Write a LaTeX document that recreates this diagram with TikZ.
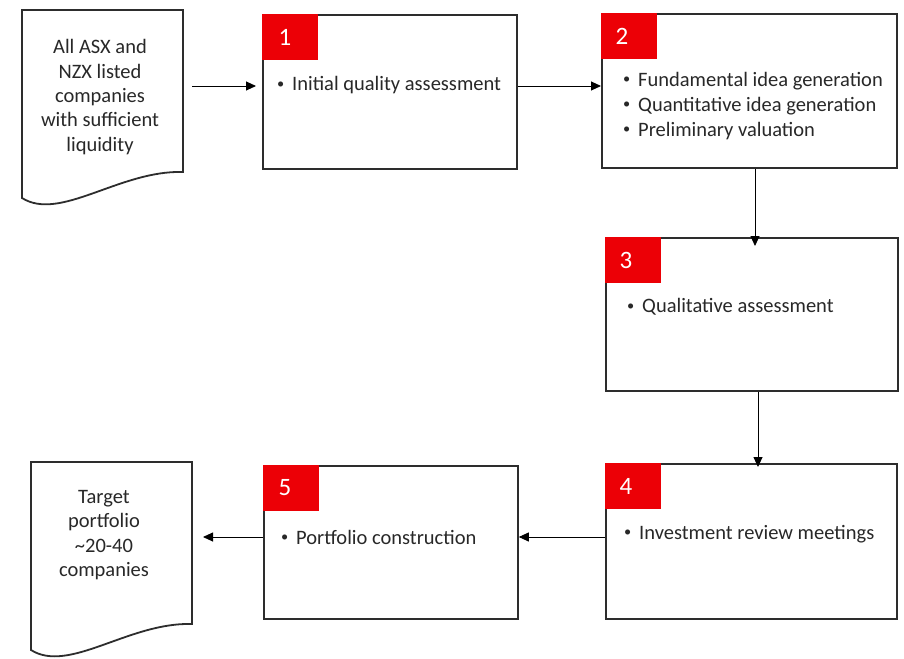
\documentclass[tikz,border=0pt]{standalone}
\usepackage{fontspec}
\setmainfont{Carlito}
\usetikzlibrary{arrows.meta}
\definecolor{stepred}{RGB}{236,0,6}
\definecolor{txt}{RGB}{40,40,40}
\definecolor{edge}{RGB}{45,45,45}
\tikzset{
  stepbox/.style={draw=edge, line width=1.8pt, fill=white, anchor=north west, inner sep=0pt},
  numbox/.style={fill=stepred, anchor=north west, minimum width=56pt, minimum height=46pt, inner sep=0pt},
  numtext/.style={anchor=center, inner sep=0pt, text=white, font=\fontsize{25}{25}\selectfont},
  item/.style={anchor=west, inner sep=0pt, text=txt, font=\fontsize{20.5}{25}\selectfont, align=left},
  doctext/.style={text=txt, font=\fontsize{20.5}{24.3}\selectfont, align=center, inner sep=0pt},
  docline/.style={draw=edge, line width=1.8pt, fill=white, line join=miter},
  arr/.style={-{Triangle[length=10pt,width=9pt]}, line width=0.9pt, draw=black},
}
\newcommand{\bul}{\makebox[15pt][l]{\raisebox{0.12em}{\scalebox{0.7}{\textbullet}}}}
\begin{document}
\begin{tikzpicture}[x=1pt,y=-1pt]
\useasboundingbox[fill=white] (0,0) rectangle (904,658);
% document 1
\draw[docline] (22,10) -- (183,10) -- (183,172) .. controls (120,170) and (60,222) .. (22,198) -- cycle;
\node[doctext] (d1) at (100,97) {All ASX and\\NZX listed\\companies\\with sufficient\\liquidity};
% document 2
\draw[docline] (31,462) -- (192,462) -- (192,624) .. controls (129,622) and (69,674) .. (31,650) -- cycle;
\node[doctext] (d2) at (104,535) {Target\\portfolio\\\textasciitilde20-40\\companies};
% boxes
\node[stepbox, minimum width=254pt, minimum height=154pt] (b1) at (262,14) {};
\node[numbox] (n1) at (262,14) {};
\node[numtext] (m1) at (285,37) {1};
\node[item] (t1) at (277,85) {\bul Initial quality assessment};

\node[stepbox, minimum width=295pt, minimum height=154pt] (b2) at (601,13) {};
\node[numbox] (n2) at (601,13) {};
\node[numtext] (m2) at (622,36) {2};
\node[item, anchor=north west] (t2) at (623,72) {\bul Fundamental idea generation\\\bul Quantitative idea generation\\\bul Preliminary valuation};

\node[stepbox, minimum width=292pt, minimum height=153pt] (b3) at (605,237) {};
\node[numbox] (n3) at (605,237) {};
\node[numtext] (m3) at (626,260) {3};
\node[item] (t3) at (627,307) {\bul Qualitative assessment};

\node[stepbox, minimum width=291pt, minimum height=155pt] (b4) at (605,463) {};
\node[numbox] (n4) at (605,463) {};
\node[numtext] (m4) at (626,486) {4};
\node[item] (t4) at (624,534) {\bul Investment review meetings};

\node[stepbox, minimum width=254pt, minimum height=153pt] (b5) at (263,465) {};
\node[numbox] (n5) at (263,465) {};
\node[numtext] (m5) at (285,488) {5};
\node[item] (t5) at (281,537) {\bul Portfolio construction};

% connectors
\coordinate (s1) at (192,86);
\draw[arr] (s1) -- ([xshift=-6pt]b1.west |- s1);
\draw[arr] (b1.east |- s1) -- (b2.west |- s1);
\draw[arr] (b2.south -| 755,0) -- ([yshift=-9pt]b3.north -| 755,0);
\draw[arr] (b3.south -| 758,0) -- ([yshift=-4pt]b4.north -| 758,0);
\coordinate (y5) at (0,537);
\draw[arr] (b4.west |- y5) -- (b5.east |- y5);
\coordinate (e5) at (203,537);
\draw[arr] (b5.west |- y5) -- (e5);
\end{tikzpicture}
\end{document}
